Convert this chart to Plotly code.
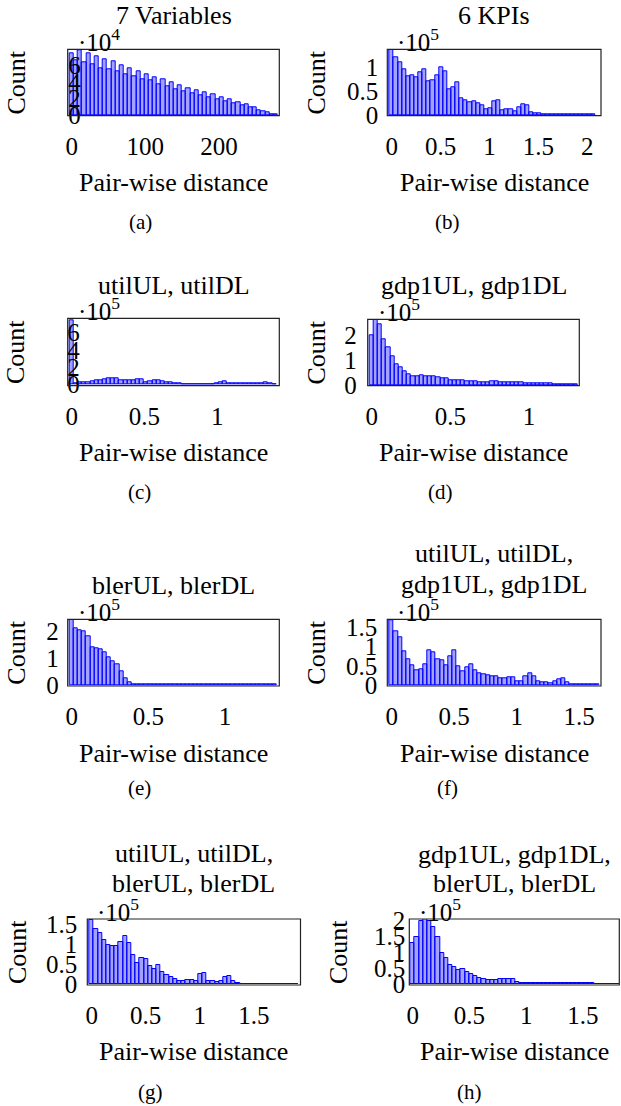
import numpy as np
import plotly.graph_objects as go

# ---------------- data (histogram bin counts, in units of the shown exponent) ----------------
A_COUNTS_E4 = [7.5, 6.7, 7.9, 6.4, 7.5, 6.2, 7.2, 5.7, 6.8, 5.5, 6.5, 5.3, 6.1, 5.0, 5.7, 4.7, 5.3, 4.4,
               4.9, 4.2, 4.6, 3.7, 4.3, 3.5, 4.0, 3.1, 3.6, 2.9, 3.3, 2.7, 3.0, 2.4, 2.8, 2.1, 2.5, 1.9,
               2.2, 1.7, 1.9, 1.4, 1.6, 1.2, 1.3, 0.9, 0.9, 0.6, 0.4, 0.3, 0.12, 0.08]
A_BIN = 5.65
B_COUNTS_E5 = [1.37, 1.20, 1.11, 0.96, 0.81, 0.84, 0.79, 0.89, 0.96, 0.70,
               0.73, 0.84, 1.00, 0.91, 0.54, 0.57, 0.69, 0.35, 0.31, 0.26,
               0.29, 0.24, 0.21, 0.12, 0.14, 0.28, 0.31, 0.10, 0.12, 0.12,
               0.07, 0.17, 0.22, 0.20, 0.06, 0.035, 0.03, 0.02, 0.02, 0.015,
               0.012, 0.01, 0.008, 0.008, 0.006, 0.006, 0.005, 0.005, 0.004, 0.004]
B_BIN = 0.042
C_COUNTS_E5 = [7.4, 0.2, 0.22, 0.3, 0.3, 0.35, 0.5, 0.5, 0.6, 0.75,
               0.75, 0.7, 0.5, 0.45, 0.45, 0.5, 0.65, 0.6, 0.3, 0.35,
               0.45, 0.55, 0.4, 0.25, 0.25, 0.2, 0.1, 0.08, 0.08, 0.08,
               0.08, 0.08, 0.08, 0.08, 0.08, 0.1, 0.25, 0.35, 0.2, 0.12,
               0.1, 0.1, 0.1, 0.1, 0.12, 0.2, 0.2, 0.25, 0.15, 0.08]
C_BIN = 0.0284
D_COUNTS_E5 = [2.0, 2.63, 2.42, 1.83, 1.49, 1.13, 0.83, 0.69, 0.55, 0.42,
               0.33, 0.36, 0.38, 0.36, 0.36, 0.36, 0.29, 0.28, 0.28, 0.2,
               0.2, 0.18, 0.17, 0.15, 0.14, 0.13, 0.12, 0.12, 0.12, 0.13,
               0.13, 0.12, 0.12, 0.12, 0.11, 0.1, 0.09, 0.08, 0.08, 0.08,
               0.07, 0.06, 0.05, 0.05, 0.04, 0.04, 0.03, 0.03, 0.03, 0.02]
D_BIN = 0.0264
E_COUNTS_E5 = [2.45, 2.13, 2.06, 2.0, 1.81, 1.42, 1.38, 1.32, 1.22, 1.04,
               0.88, 0.76, 0.5, 0.24, 0.09, 0.04, 0.02, 0.015, 0.015, 0.015,
               0.02, 0.025, 0.025, 0.025, 0.03, 0.03, 0.03, 0.03, 0.03, 0.03,
               0.035, 0.03, 0.03, 0.03, 0.03, 0.03, 0.03, 0.03, 0.03, 0.03,
               0.03, 0.03, 0.03, 0.03, 0.03, 0.03, 0.03, 0.025, 0.025, 0.02]
E_BIN = 0.027
F_COUNTS_E5 = [1.69, 1.39, 1.23, 0.89, 0.67, 0.52, 0.39, 0.41, 0.54, 0.91,
               0.84, 0.67, 0.65, 0.52, 0.74, 0.91, 0.49, 0.36, 0.45, 0.54,
               0.39, 0.30, 0.28, 0.26, 0.24, 0.22, 0.17, 0.17, 0.19, 0.19,
               0.11, 0.11, 0.22, 0.30, 0.22, 0.09, 0.07, 0.07, 0.04, 0.11,
               0.15, 0.17, 0.06, 0.03, 0.02, 0.02, 0.02, 0.015, 0.01, 0.01]
F_BIN = 0.0335
G_COUNTS_E5 = [1.61, 1.38, 1.28, 1.10, 0.97, 0.96, 0.95, 1.05, 1.21, 1.03,
               0.72, 0.52, 0.66, 0.62, 0.44, 0.37, 0.47, 0.31, 0.22, 0.17,
               0.13, 0.08, 0.08, 0.09, 0.10, 0.08, 0.26, 0.27, 0.08, 0.08,
               0.06, 0.07, 0.17, 0.21, 0.07, 0.02, 0.01, 0.01, 0.01, 0.01,
               0.01, 0.01, 0.01, 0.01, 0.01, 0.01, 0.01, 0.01, 0.01, 0.01]
G_BIN = 0.0386
H_COUNTS_E5 = [1.29, 1.47, 1.97, 2.02, 1.97, 1.79, 1.47, 0.97, 0.81, 0.6,
               0.54, 0.44, 0.48, 0.37, 0.31, 0.25, 0.2, 0.16, 0.13, 0.12,
               0.12, 0.15, 0.16, 0.16, 0.16, 0.07, 0.03, 0.02, 0.02, 0.02,
               0.02, 0.02, 0.025, 0.025, 0.03, 0.03, 0.025, 0.025, 0.02, 0.02,
               0.02, 0.02, 0.02, 0.02, 0.015, 0.015, 0.015, 0.01, 0.01, 0.01]
H_BIN = 0.0368

TITLES = {
    "a": ["7 Variables"],
    "b": ["6 KPIs"],
    "c": ["utilUL, utilDL"],
    "d": ["gdp1UL, gdp1DL"],
    "e": ["blerUL, blerDL"],
    "f": ["utilUL, utilDL,", "gdp1UL, gdp1DL"],
    "g": ["utilUL, utilDL,", "blerUL, blerDL"],
    "h": ["gdp1UL, gdp1DL,", "blerUL, blerDL"],
}
X_TICKS = {
    "a": [0, 100, 200],
    "b": [0, 0.5, 1, 1.5, 2],
    "c": [0, 0.5, 1],
    "d": [0, 0.5, 1],
    "e": [0, 0.5, 1],
    "f": [0, 0.5, 1, 1.5],
    "g": [0, 0.5, 1, 1.5],
    "h": [0, 0.5, 1, 1.5],
}
Y_TICKS = {
    "a": [0, 2, 4, 6],
    "b": [0, 0.5, 1],
    "c": [0, 2, 4, 6],
    "d": [0, 1, 2],
    "e": [0, 1, 2],
    "f": [0, 0.5, 1, 1.5],
    "g": [0, 0.5, 1, 1.5],
    "h": [0, 0.5, 1, 1.5, 2],
}
X_LABEL = "Pair-wise distance"
Y_LABEL = "Count"

# ---------------- layout geometry (pixels in a 621x1106 page) ----------------
W, H = 621, 1106
FONT = "Liberation Serif, Times New Roman, serif"
FS = 25       # tick labels
FS_T = 26     # titles and axis labels
FS_C = 21     # sub-captions

panels = [
    dict(k="a", c=A_COUNTS_E4, e=4, w=A_BIN, box=(67.7, 279.3, 49.3, 115.7), xr=(-5.4, 281.8), yr=(-0.085, 7.99),
         cap=(140, 222), xl=182, ty=[16], cx=16, yso=-14),
    dict(k="b", c=B_COUNTS_E5, e=5, w=B_BIN, box=(387.3, 601.0, 49.3, 115.7), xr=(-0.045, 2.14), yr=(-0.015, 1.377),
         cap=(447, 222), xl=182, ty=[16], cx=316, yso=8),
    dict(k="c", c=C_COUNTS_E5, e=5, w=C_BIN, box=(67.7, 279.3, 318.3, 385.7), xr=(-0.027, 1.426), yr=(-0.12, 7.66),
         cap=(139, 491.5), xl=452, ty=[286], cx=16, yso=-13),
    dict(k="d", c=D_COUNTS_E5, e=5, w=D_BIN, box=(367.7, 579.3, 319.3, 385.7), xr=(-0.025, 1.319), yr=(-0.03, 2.63),
         cap=(440, 491.5), xl=452, ty=[286], cx=316, yso=10),
    dict(k="e", c=E_COUNTS_E5, e=5, w=E_BIN, box=(67.7, 279.3, 619.3, 686.0), xr=(-0.026, 1.354), yr=(-0.04, 2.46),
         cap=(139, 788), xl=753, ty=[585], cx=17, yso=8),
    dict(k="f", c=F_COUNTS_E5, e=5, w=F_BIN, box=(387.3, 601.0, 619.3, 686.0), xr=(-0.035, 1.674), yr=(-0.025, 1.71),
         cap=(447, 788), xl=753, ty=[553, 584], cx=317, yso=9),
    dict(k="g", c=G_COUNTS_E5, e=5, w=G_BIN, box=(87.3, 300.5, 919.0, 985.0), xr=(-0.04, 1.93), yr=(-0.025, 1.63),
         cap=(150, 1092), xl=1051.5, ty=[853, 883], cx=17, yso=9),
    dict(k="h", c=H_COUNTS_E5, e=5, w=H_BIN, box=(409.3, 619.3, 919.0, 985.0), xr=(-0.03, 1.82), yr=(-0.03, 2.03),
         cap=(469, 1092), xl=1051.5, ty=[854, 883], cx=338, yso=3),
]


def px(x):
    return x / W


def py(y):
    return 1 - y / H


def fmt(v):
    return ("%g" % v)


fig = go.Figure()
layout = dict(
    width=W, height=H, margin=dict(l=0, r=0, t=0, b=0, pad=0), autosize=False,
    paper_bgcolor="white", plot_bgcolor="white", showlegend=False,
    font=dict(family=FONT, size=FS, color="black"),
    bargap=0,
)
annotations = []
shapes = []
n = len(panels)
for i, p in enumerate(panels):
    idx = i + 1
    sfx = "" if idx == 1 else str(idx)
    ov = idx + n
    scale = 10 ** p["e"]
    counts = np.array(p["c"]) * scale
    centers = np.arange(len(counts)) * p["w"]
    fig.add_trace(go.Bar(
        x=centers, y=counts, width=p["w"],
        xaxis="x" + sfx, yaxis="y" + sfx,
        marker=dict(color="rgba(0,0,255,0.36)", line=dict(color="rgb(0,0,255)", width=1)),
        hoverinfo="skip",
    ))
    l, r, t, b = p["box"]
    xd = [px(l), px(r)]
    yd = [py(b), py(t)]
    xt = X_TICKS[p["k"]]
    yt = Y_TICKS[p["k"]]
    yr = [p["yr"][0] * scale, p["yr"][1] * scale]
    layout["xaxis" + sfx] = dict(
        domain=xd, anchor="y" + sfx, range=list(p["xr"]), tickmode="array", automargin=False,
        tickvals=xt, ticktext=[fmt(v) for v in xt], ticks="", ticklen=0, showline=False,
        showgrid=False, zeroline=False, ticklabelstandoff=13, tickfont=dict(size=FS),
    )
    layout["yaxis" + sfx] = dict(
        domain=yd, anchor="x" + sfx, range=yr, tickmode="array", automargin=False,
        tickvals=[v * scale for v in yt], ticktext=[fmt(v) for v in yt], ticks="", ticklen=0,
        showline=False, showgrid=False, zeroline=False,
        ticklabelposition="outside", ticklabelstandoff=p["yso"], tickfont=dict(size=FS),
    )
    # grey tick marks on the top (outward) and right (inward) sides
    layout["xaxis%d" % ov] = dict(
        overlaying="x" + sfx, anchor="y" + sfx, side="top", range=list(p["xr"]), automargin=False,
        tickmode="array", tickvals=xt, ticks="outside", ticklen=9, tickwidth=1,
        tickcolor="#9a9a9a", showticklabels=False, showline=False, showgrid=False, zeroline=False,
    )
    layout["yaxis%d" % ov] = dict(
        overlaying="y" + sfx, anchor="x" + sfx, side="right", range=yr, automargin=False,
        tickmode="array", tickvals=[v * scale for v in yt], ticks="inside", ticklen=11, tickwidth=1,
        tickcolor="#9a9a9a", showticklabels=False, showline=False, showgrid=False, zeroline=False,
    )
    # axis box
    shapes.append(dict(type="rect", xref="x%s domain" % sfx, yref="y%s domain" % sfx,
                       x0=0, x1=1, y0=0, y1=1, line=dict(color="#222", width=1.2),
                       fillcolor="rgba(0,0,0,0)", layer="above"))
    cxm = (l + r) / 2
    for txt, yy in zip(TITLES[p["k"]], p["ty"]):
        annotations.append(dict(text=txt, x=px(cxm), y=py(yy), xref="paper", yref="paper",
                                xanchor="center", yanchor="middle", showarrow=False,
                                font=dict(size=FS_T)))
    annotations.append(dict(text="·10<sup>%d</sup>" % p["e"], x=px(l + 8), y=py(t + 9), xref="paper",
                            yref="paper", xanchor="left", yanchor="bottom", showarrow=False,
                            font=dict(size=FS)))
    annotations.append(dict(text=X_LABEL, x=px(cxm), y=py(p["xl"]), xref="paper", yref="paper",
                            xanchor="center", yanchor="middle", showarrow=False, font=dict(size=FS_T)))
    annotations.append(dict(text=Y_LABEL, x=px(p["cx"]), y=py((t + b) / 2), xref="paper", yref="paper",
                            xanchor="center", yanchor="middle", textangle=-90, showarrow=False,
                            font=dict(size=FS_T)))
    annotations.append(dict(text="(%s)" % p["k"], x=px(p["cap"][0]), y=py(p["cap"][1]), xref="paper",
                            yref="paper", xanchor="center", yanchor="middle", showarrow=False,
                            font=dict(size=FS_C)))

layout["annotations"] = annotations
layout["shapes"] = shapes
fig.update_layout(**layout)
fig.write_html("out.html", config={"displayModeBar": False},
               post_script="document.body.style.margin='0';document.body.style.overflow='hidden';")
